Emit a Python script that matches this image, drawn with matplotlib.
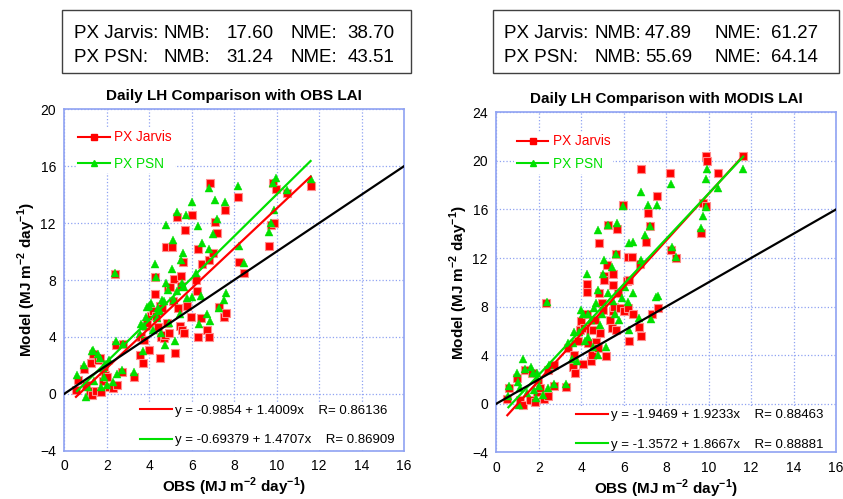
import matplotlib
matplotlib.use("Agg")
import matplotlib.pyplot as plt
from matplotlib import font_manager
from matplotlib.lines import Line2D
from matplotlib.patches import Rectangle
import numpy as np

# ---- left panel: OBS LAI ----
obs_l_jarvis = [0.55, 0.65, 0.95, 1.0, 1.2, 1.25, 1.35, 1.3, 1.5, 1.6, 1.7, 1.75, 1.8, 1.85, 1.9,
                2.0, 2.1, 2.3, 2.4, 2.5, 2.45, 2.7, 2.75, 3.3, 3.55, 3.6, 3.7, 3.75, 3.85, 3.9,
                4.0, 4.1, 4.2, 4.25, 4.25, 4.3, 4.4, 4.5, 4.5, 4.55, 4.6, 4.7, 4.75, 4.8, 4.85,
                4.9, 4.95, 5.0, 5.05, 5.1, 5.15, 5.2, 5.3, 5.35, 5.45, 5.5, 5.5, 5.55, 5.6, 5.65,
                5.7, 5.8, 5.95, 6.0, 6.2, 6.25, 6.3, 6.3, 6.45, 6.5, 6.7, 6.8, 6.8, 6.85, 7.0,
                7.1, 7.2, 7.3, 7.5, 7.55, 7.6, 8.2, 8.25, 8.45, 9.65, 9.75, 9.85, 9.9, 9.95, 10.5, 11.6]
mod_l_jarvis = [0.3, 1.0, 1.75, 0.6, 0.2, 2.2, 2.8, -0.05, 0.2, 2.4, 2.55, 0.15, 0.9, 1.6, 1.3,
                1.2, 0.5, 0.4, 8.4, 0.6, 3.4, 1.5, 3.5, 1.2, 2.7, 4.0, 2.2, 3.8, 4.8, 5.0,
                3.1, 5.5, 5.8, 8.2, 7.0, 5.5, 4.7, 2.5, 6.2, 4.0, 6.0, 3.9, 4.1, 10.3, 5.0,
                7.5, 4.3, 7.5, 10.3, 6.5, 8.1, 2.9, 12.4, 6.0, 4.8, 8.3, 7.6, 4.5, 9.3, 4.3,
                11.5, 6.2, 5.4, 12.6, 8.0, 7.2, 10.2, 4.0, 5.3, 9.1, 4.5, 9.4, 4.0, 14.8, 9.9,
                12.1, 11.3, 6.1, 5.4, 12.9, 5.7, 13.8, 9.3, 8.5, 10.4, 11.9, 14.8, 12.0, 14.4, 14.1, 14.6]
obs_l_psn = [0.6, 0.95, 1.0, 1.1, 1.3, 1.35, 1.4, 1.6, 1.7, 1.75, 1.8, 1.85, 1.9, 2.0, 2.1,
             2.3, 2.4, 2.45, 2.5, 2.7, 2.75, 3.3, 3.55, 3.6, 3.7, 3.75, 3.85, 3.9, 4.0, 4.1,
             4.2, 4.25, 4.3, 4.35, 4.4, 4.5, 4.55, 4.6, 4.7, 4.75, 4.8, 4.8, 4.9, 4.95, 5.05,
             5.1, 5.15, 5.2, 5.3, 5.3, 5.45, 5.5, 5.55, 5.6, 5.65, 5.75, 5.8, 6.0, 6.0, 6.2,
             6.3, 6.35, 6.45, 6.5, 6.7, 6.8, 6.8, 6.85, 7.0, 7.1, 7.2, 7.3, 7.5, 7.55, 7.6,
             8.2, 8.25, 8.45, 9.65, 9.75, 9.9, 9.85, 9.95, 10.5, 11.6]
mod_l_psn = [1.3, 2.0, -0.2, 0.5, 3.0, 3.1, 0.9, 2.8, 2.5, 0.5, 1.8, 1.2, 2.1, 0.6, 2.4,
             0.8, 8.5, 3.7, 1.4, 1.7, 3.5, 1.5, 4.2, 4.9, 3.0, 4.8, 5.4, 6.1, 6.2, 6.4,
             4.5, 9.1, 8.2, 5.3, 6.0, 5.8, 4.3, 6.6, 6.5, 3.4, 11.9, 7.8, 7.3, 5.0, 8.8,
             10.8, 6.6, 3.7, 12.8, 7.2, 5.6, 9.4, 7.8, 9.9, 7.5, 12.6, 6.7, 13.5, 6.8, 8.5,
             11.8, 4.9, 6.9, 10.6, 5.6, 14.5, 10.2, 5.1, 11.2, 13.6, 12.3, 6.0, 6.6, 13.5, 7.1,
             14.6, 10.4, 9.2, 11.4, 12.0, 12.9, 14.8, 15.2, 14.3, 15.1]

# ---- right panel: MODIS LAI ----
obs_r_jarvis = [0.52, 0.61, 0.96, 1.1, 1.27, 1.35, 1.6, 1.66, 1.8, 1.9, 1.98, 2.05, 2.25, 2.34, 2.42,
                2.45, 2.7, 2.73, 3.28, 3.4, 3.6, 3.66, 3.7, 3.86, 3.94, 3.97, 4.07, 4.13, 4.25, 4.25,
                4.25, 4.33, 4.4, 4.44, 4.49, 4.57, 4.65, 4.69, 4.77, 4.84, 4.84, 4.88, 4.96, 5.04, 5.09,
                5.09, 5.15, 5.2, 5.27, 5.35, 5.43, 5.48, 5.48, 5.51, 5.56, 5.62, 5.7, 5.64, 5.75, 5.82,
                5.98, 6.01, 6.14, 6.22, 6.22, 6.26, 6.26, 6.4, 6.45, 6.72, 6.77, 6.8, 6.8, 7.03, 7.13,
                7.24, 7.35, 7.55, 7.6, 8.18, 8.23, 8.45, 9.64, 9.72, 9.87, 9.87, 9.94, 10.46, 11.6]
mod_r_jarvis = [0.36, 1.26, 2.1, 0.3, -0.1, 2.8, 0.3, 2.5, 0.15, 1.0, 1.8, 1.26, 0.36, 8.3, 0.6,
                2.8, 3.2, 1.5, 1.4, 4.6, 3.0, 4.0, 2.5, 5.2, 6.1, 6.8, 3.3, 6.2, 7.4, 9.2,
                9.9, 5.0, 6.1, 3.5, 4.0, 6.1, 6.9, 5.1, 4.6, 13.2, 9.1, 5.8, 8.3, 7.7, 10.5,
                10.2, 3.9, 11.4, 14.7, 6.9, 6.2, 10.7, 9.8, 7.6, 8.0, 6.1, 14.4, 12.3, 9.1, 7.9,
                16.4, 7.6, 10.1, 12.1, 7.9, 5.2, 10.2, 12.1, 7.4, 6.3, 11.5, 5.6, 19.3, 13.3, 15.7,
                14.6, 7.4, 17.1, 7.9, 19.0, 12.7, 12.0, 14.1, 16.5, 16.3, 20.4, 20.0, 19.0, 20.4]
obs_r_psn = [0.57, 0.61, 0.96, 1.0, 1.07, 1.1, 1.27, 1.37, 1.43, 1.63, 1.74, 1.79, 1.87, 1.9, 1.93,
             2.03, 2.21, 2.37, 2.45, 2.48, 2.73, 3.3, 3.4, 3.55, 3.63, 3.67, 3.81, 3.9, 3.97, 4.1,
             4.17, 4.25, 4.3, 4.33, 4.44, 4.54, 4.6, 4.68, 4.8, 4.8, 4.8, 4.88, 4.96, 5.04, 5.09,
             5.17, 5.27, 5.27, 5.43, 5.51, 5.59, 5.64, 5.7, 5.78, 5.9, 5.98, 6.06, 6.22, 6.26, 6.26,
             6.45, 6.45, 6.73, 6.8, 6.8, 7.0, 7.13, 7.24, 7.28, 7.52, 7.58, 7.63, 8.21, 8.26, 8.46,
             9.64, 9.75, 9.87, 9.9, 9.94, 10.46, 11.63]
mod_r_psn = [0.6, 1.5, 2.5, 1.8, -0.1, 1.3, 3.65, 2.9, 0.85, 3.05, 2.5, 1.1, 0.45, 2.1, 2.5,
             1.5, 0.7, 8.4, 1.26, 3.2, 1.6, 1.6, 5.0, 3.7, 5.0, 5.9, 3.5, 5.9, 7.7, 7.4,
             5.2, 10.7, 7.4, 5.5, 6.9, 4.7, 7.9, 8.3, 14.3, 9.4, 4.0, 6.5, 7.4, 10.7, 11.8,
             4.7, 9.1, 14.7, 11.3, 8.5, 7.4, 12.3, 14.9, 6.9, 8.7, 16.3, 9.6, 8.4, 13.2, 6.1,
             13.3, 9.1, 7.1, 11.8, 17.4, 13.9, 16.4, 14.6, 6.95, 8.8, 16.4, 8.9, 18.1, 12.9, 12.05,
             14.5, 15.5, 16.2, 18.5, 19.3, 17.8, 19.3]

# regression (intercept, slope, R) printed on the chart
fit_l_jarvis = (-0.9854, 1.4009, 0.86136)
fit_l_psn = (-0.69379, 1.4707, 0.86909)
fit_r_jarvis = (-1.9469, 1.9233, 0.88463)
fit_r_psn = (-1.3572, 1.8667, 0.88881)

titles = ["Daily LH Comparison with OBS LAI", "Daily LH Comparison with MODIS LAI"]
series_names = ["PX Jarvis", "PX PSN"]
stats_l = [("17.60", "38.70"), ("31.24", "43.51")]
stats_r = [("47.89", "61.27"), ("55.69", "64.14")]

RED = "#ff0000"
GREEN = "#00e000"
BLUE = "#8fa2f2"

available = {f.name for f in font_manager.fontManager.ttflist}
sans = "Liberation Sans" if "Liberation Sans" in available else "DejaVu Sans"
narrow = "Liberation Sans Narrow" if "Liberation Sans Narrow" in available else None

plt.rcParams["font.family"] = [sans, "DejaVu Sans"]
plt.rcParams["mathtext.fontset"] = "custom"
plt.rcParams["mathtext.rm"] = sans
plt.rcParams["mathtext.bf"] = sans + ":bold"

fig = plt.figure(figsize=(8.43, 4.99), dpi=100)
W, H = 843.0, 499.0


def fig_box(x0, y0, x1, y1):
    # pixel box (top-left origin) -> figure fraction rect
    return [x0 / W, 1 - y1 / H, (x1 - x0) / W, (y1 - y0) / H]


def panel(ax, title, xj, yj, xp, yp, fj, fp, ymax, top_anchor, top_space, bot_anchor, bot_space):
    ax.plot(xj, yj, ls="none", marker="s", ms=5.3, mfc=RED, mec="#ff8c8c", mew=0.8, zorder=3)
    ax.plot(xp, yp, ls="none", marker="^", ms=5.8, mfc=GREEN, mec=GREEN, mew=0.3, zorder=4)
    xs = np.array([min(xj), max(xj)])
    ax.plot(xs, fj[0] + fj[1] * xs, color=RED, lw=1.6, zorder=5)
    xs = np.array([min(xp), max(xp)])
    ax.plot(xs, fp[0] + fp[1] * xs, color=GREEN, lw=1.6, zorder=5)
    ax.plot([0, 16], [0, 16], color="black", lw=1.6, zorder=5)

    ax.set_xlim(0, 16)
    ax.set_ylim(-4, ymax)
    ax.set_xticks(np.arange(0, 17, 2))
    ax.set_yticks(np.arange(-4, ymax + 1, 4))
    ax.tick_params(length=0, labelsize=10, pad=6)
    ax.grid(True, ls=":", color=BLUE, lw=0.9)
    ax.set_axisbelow(True)
    for s in ax.spines.values():
        s.set_color(BLUE)
        s.set_linewidth(1.2)

    ax.set_title(title, fontsize=11, fontweight="bold", pad=7)
    ax.set_xlabel("OBS (MJ m$^{\\mathbf{-2}}$ day$^{\\mathbf{-1}}$)", fontsize=11,
                  fontweight="bold", labelpad=2)
    ax.set_ylabel("Model (MJ m$^{\\mathbf{-2}}$ day$^{\\mathbf{-1}}$)", fontsize=11,
                  fontweight="bold", labelpad=1.5)

    handles = [Line2D([], [], color=RED, lw=1.5, marker="s", ms=3.8),
               Line2D([], [], color=GREEN, lw=1.5, marker="^", ms=4.2)]
    leg = ax.legend(handles, series_names, loc="upper left", bbox_to_anchor=top_anchor,
                    fontsize=9.8, handlelength=2.3, handletextpad=0.35,
                    labelspacing=top_space, borderpad=0.2, borderaxespad=0,
                    labelcolor="linecolor", frameon=True, framealpha=1,
                    facecolor="white", edgecolor="none", fancybox=False)
    leg.set_zorder(2.4)
    ax.add_artist(leg)

    eq = ["y = %g + %gx    R= %g" % f for f in (fj, fp)]
    handles = [Line2D([], [], color=RED, lw=1.5), Line2D([], [], color=GREEN, lw=1.5)]
    leg = ax.legend(handles, eq, loc="upper left", bbox_to_anchor=bot_anchor,
                    fontsize=9.5, handlelength=2.4, handletextpad=0.25,
                    labelspacing=bot_space, borderpad=0.2, borderaxespad=0,
                    frameon=True, framealpha=1, facecolor="white", edgecolor="none",
                    fancybox=False)
    leg.set_zorder(2.4)


ax1 = fig.add_axes(fig_box(64.3, 109.3, 404.0, 450.7))
panel(ax1, titles[0], obs_l_jarvis, mod_l_jarvis, obs_l_psn, mod_l_psn,
      fit_l_jarvis, fit_l_psn, 20, (0.033, 0.946), 0.9, (0.216, 0.143), 1.3)

ax2 = fig.add_axes(fig_box(496.3, 112.3, 836.0, 452.3))
panel(ax2, titles[1], obs_r_jarvis, mod_r_jarvis, obs_r_psn, mod_r_psn,
      fit_r_jarvis, fit_r_psn, 24, (0.053, 0.943), 0.65, (0.227, 0.135), 1.3)

# statistics boxes above the panels
if narrow:
    box_font = dict(family=[narrow, "DejaVu Sans"], fontsize=16.5)
else:
    box_font = dict(family=[sans, "DejaVu Sans"], fontsize=13.5)


def stat_box(x0, x1, cols, stats):
    fig.patches.append(Rectangle((x0 / W, 1 - 72.7 / H), (x1 - x0) / W, 62.7 / H,
                                 transform=fig.transFigure, fill=False,
                                 edgecolor="#404040", lw=1.0))
    for row, (name, (nmb, nme)) in enumerate(zip(series_names, stats)):
        yb = 1 - (38.3 + 23.4 * row) / H
        for x, txt in zip(cols, [name + ":", "NMB:", nmb, "NME:", nme]):
            fig.text(x / W, yb, txt, va="baseline", ha="left", color="black", **box_font)


stat_box(62.3, 410.7, [73.5, 163.5, 226.5, 290.5, 347.5], stats_l)
stat_box(493.3, 838.7, [503.5, 594.0, 645.0, 715.0, 771.5], stats_r)

fig.savefig("out.png", dpi=100)
